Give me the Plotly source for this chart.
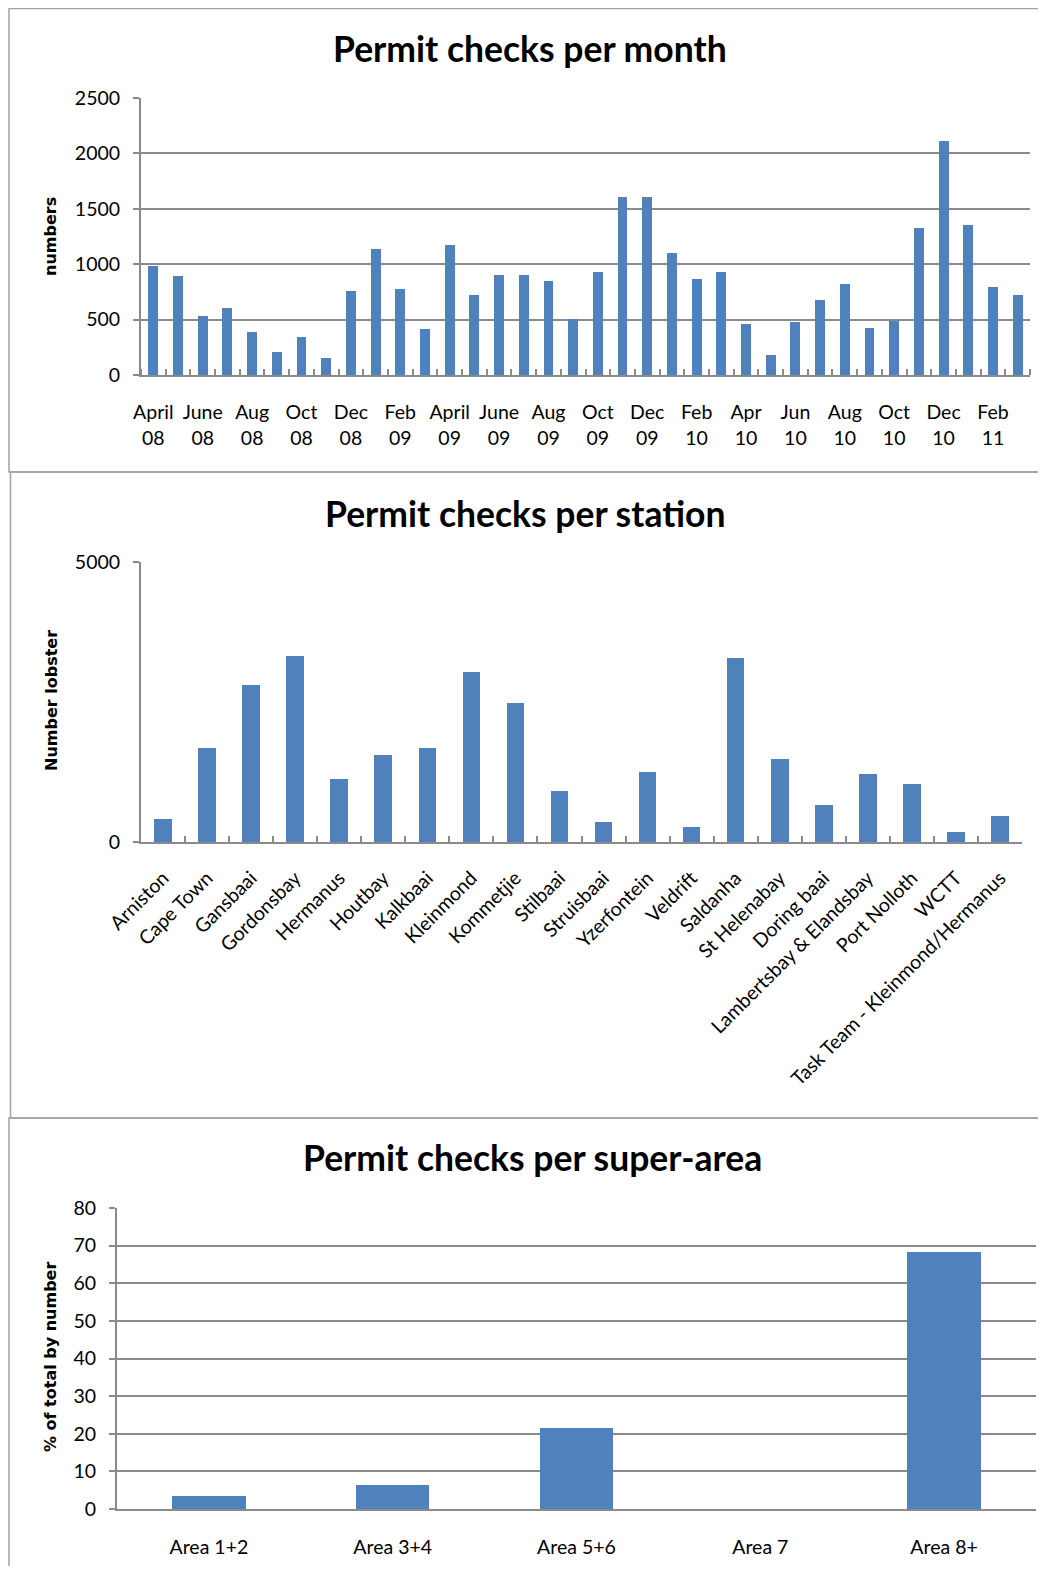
import plotly.graph_objects as go

# ---------------- data ----------------
months = ["April 08", "May 08", "June 08", "July 08", "Aug 08", "Sep 08", "Oct 08", "Nov 08",
          "Dec 08", "Jan 09", "Feb 09", "Mar 09", "April 09", "May 09", "June 09", "July 09",
          "Aug 09", "Sep 09", "Oct 09", "Nov 09", "Dec 09", "Jan 10", "Feb 10", "Mar 10",
          "Apr 10", "May 10", "Jun 10", "Jul 10", "Aug 10", "Sep 10", "Oct 10", "Nov 10",
          "Dec 10", "Jan 11", "Feb 11", "Mar 11"]
monthly_checks = [980, 895, 529, 601, 385, 210, 340, 150, 760, 1139, 772, 412, 1169, 718, 907, 907,
                  850, 502, 934, 1605, 1605, 1097, 862, 934, 457, 180, 475, 673, 823, 427, 484, 1328,
                  2112, 1355, 790, 718]

stations = ["Arniston", "Cape Town", "Gansbaai", "Gordonsbay", "Hermanus", "Houtbay", "Kalkbaai",
            "Kleinmond", "Kommetjie", "Stilbaai", "Struisbaai", "Yzerfontein", "Veldrift", "Saldanha",
            "St Helenabay", "Doring baai", "Lambertsbay & Elandsbay", "Port Nolloth", "WCTT",
            "Task Team - Kleinmond/Hermanus"]
station_checks = [414, 1679, 2803, 3321, 1132, 1546, 1679, 3033, 2485, 902, 355, 1243, 266, 3291,
                  1479, 666, 1213, 1043, 185, 473]

areas = ["Area 1+2", "Area 3+4", "Area 5+6", "Area 7", "Area 8+"]
area_pct = [3.5, 6.5, 21.5, 0, 68.3]

titles = ["Permit checks per month", "Permit checks per station", "Permit checks per super-area"]
ytitles = ["numbers", "Number lobster", "% of total by number"]

# ---------------- layout helpers ----------------
W, H, OFF = 1030, 1558, 8
def xd(a, b):
    return [(a - OFF) / W, (b - OFF) / W]
def yd(top, bottom):
    return [1 - (bottom - OFF) / H, 1 - (top - OFF) / H]
def px(x):
    return (x - OFF) / W
def py(y):
    return 1 - (y - OFF) / H

BAR = "#4F81BD"
GRID = "#8a8a8a"
TICKFONT = dict(family="Lato, Carlito, sans-serif", size=19.5, color="black")

fig = go.Figure()

fig.add_trace(go.Bar(x=list(range(len(monthly_checks))), y=monthly_checks, width=0.4,
                     marker=dict(color=BAR, line=dict(width=0)),
                     hovertext=months, xaxis="x", yaxis="y", showlegend=False))
fig.add_trace(go.Bar(x=stations, y=station_checks, width=0.4,
                     marker=dict(color=BAR, line=dict(width=0)),
                     xaxis="x2", yaxis="y2", showlegend=False))
fig.add_trace(go.Bar(x=areas, y=area_pct, width=0.4,
                     marker=dict(color=BAR, line=dict(width=0)),
                     xaxis="x3", yaxis="y3", showlegend=False))

yax_common = dict(showline=True, linecolor=GRID, linewidth=2, showgrid=True, gridcolor=GRID,
                  gridwidth=2, ticks="outside", ticklen=6, tickwidth=2, tickcolor=GRID,
                  tickfont=TICKFONT, zeroline=False, fixedrange=True, automargin=False,
                  ticklabelstandoff=9)

fig.update_layout(
    template="none",
    width=W, height=H, margin=dict(l=0, r=0, t=0, b=0, pad=0), autosize=False,
    paper_bgcolor="white", plot_bgcolor="white", bargap=0,
    xaxis=dict(domain=xd(141, 1030), anchor="y", range=[-0.5, len(monthly_checks) - 0.5],
               tickmode="array", tickvals=list(range(0, len(months), 2)),
               ticktext=[m.replace(" ", "<br>") for m in months[::2]],
               ticks="", showline=True, linecolor=GRID, linewidth=2, showgrid=False,
               zeroline=False, tickfont=TICKFONT, ticklabelstandoff=19, automargin=False,
               minor=dict(tickmode="linear", tick0=-0.5, dtick=1, ticks="inside", ticklen=6,
                          tickwidth=2, tickcolor=GRID, showgrid=False)),
    yaxis=dict(domain=yd(98, 375), anchor="x", range=[0, 2500], dtick=500, **yax_common),
    xaxis2=dict(domain=xd(141, 1022), anchor="y2", type="category", tickangle=-45,
                tickson="boundaries", ticks="inside", ticklen=6, tickwidth=2, tickcolor=GRID,
                showline=True, linecolor=GRID, linewidth=2, showgrid=False, zeroline=False,
                tickfont=TICKFONT, ticklabelstandoff=15, automargin=False),
    yaxis2=dict(domain=yd(562, 842), anchor="x2", range=[0, 5000], tickvals=[0, 5000], **yax_common),
    xaxis3=dict(domain=xd(117, 1036), anchor="y3", type="category", ticks="",
                showline=True, linecolor=GRID, linewidth=2, showgrid=False, zeroline=False,
                tickfont=TICKFONT, ticklabelstandoff=20, automargin=False),
    yaxis3=dict(domain=yd(1208, 1509), anchor="x3", range=[0, 80], dtick=10, **yax_common),
)

# chart titles
title_pos = [(530, 49), (525, 513), (532, 1157)]
for t, (x, y) in zip(titles, title_pos):
    fig.add_annotation(text="<b>%s</b>" % t, x=px(x), y=py(y), xref="paper", yref="paper",
                       showarrow=False, xanchor="center", yanchor="middle",
                       font=dict(family="Lato, sans-serif", size=35.5, color="black"))

# y axis titles
ytitle_pos = [(50, 237), (51, 701), (50, 1357)]
for t, (x, y) in zip(ytitles, ytitle_pos):
    fig.add_annotation(text="<b>%s</b>" % t, x=px(x), y=py(y), xref="paper", yref="paper",
                       showarrow=False, textangle=-90, xanchor="center", yanchor="middle",
                       font=dict(family="DejaVu Sans, sans-serif", size=16, color="black"))

# panel borders
BORDER = dict(color="#a3a3a3", width=1.5)
for (x0, y0, y1) in [(9, 8.5, 472), (10.5, 472, 1118), (9, 1118, 1600)]:
    fig.add_shape(type="rect", xref="paper", yref="paper", x0=px(x0), x1=1.1, y0=py(y1), y1=py(y0),
                  line=BORDER, fillcolor="rgba(0,0,0,0)", layer="below")

fig.write_html("out.html")
